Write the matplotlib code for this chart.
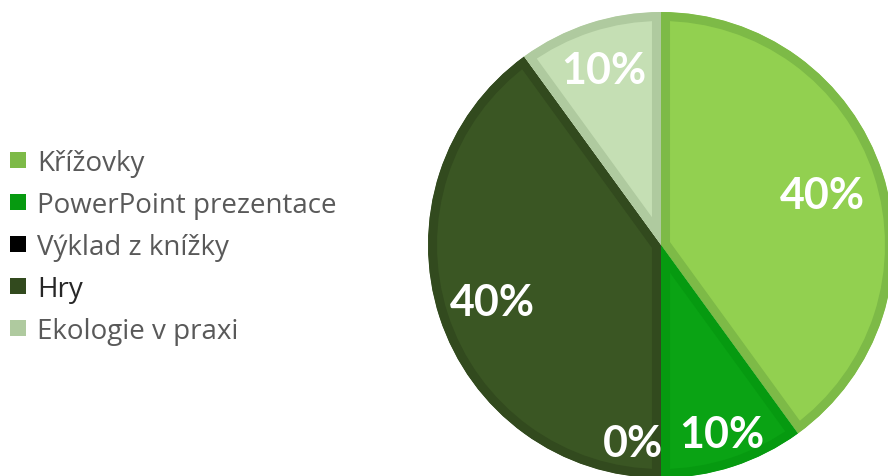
import matplotlib
matplotlib.use("Agg")
import matplotlib.pyplot as plt
import numpy as np
from matplotlib.patches import Rectangle

categories = ["Křížovky", "PowerPoint prezentace", "Výklad z knížky", "Hry", "Ekologie v praxi"]
shares = [40, 10, 0, 40, 10]

fill_colors = ["#92D050", "#0AA314", "#000000", "#3A5623", "#C5DFB4"]
edge_colors = ["#7DBA47", "#069A10", "#000000", "#324A1E", "#AFCA9F"]
legend_text_colors = ["#595959", "#595959", "#595959", "#262626", "#595959"]

# radial position of each percentage label (fraction of radius)
label_radius = [0.73, 0.84, 0.84, 0.76, 0.80]

W, H = 888, 476
fig = plt.figure(figsize=(W / 100, H / 100), dpi=100)

cx, cy, R = 661, 245, 233
ax = fig.add_axes([(cx - R) / W, (H - cy - R) / H, 2 * R / W, 2 * R / H])

wedges, _ = ax.pie(shares, startangle=90, counterclock=False, radius=1,
                   colors=fill_colors)
ax.set_xlim(-1, 1)
ax.set_ylim(-1, 1)
ax.set_aspect("equal")
ax.axis("off")

# inner border: stroke each wedge and clip it to its own outline
for w, ec in zip(wedges, edge_colors):
    w.set_edgecolor(ec)
    w.set_linewidth(13)
    w.set_clip_on(True)
    w.set_clip_path(w)

total = sum(shares)
for w, val, r in zip(wedges, shares, label_radius):
    mid = np.deg2rad((w.theta1 + w.theta2) / 2)
    x, y = r * np.cos(mid), r * np.sin(mid)
    ha = "right" if val == 0 else "center"
    if val == 0:
        x += 0.01
    ax.text(x, y, f"{val / total * 100:.0f}%", ha=ha, va="center_baseline",
            color="white", fontsize=31, fontweight="bold", family="Lato")

# legend: colour key + label per row
row_top, row_step = 160, 42
for i, (name, ec, tc) in enumerate(zip(categories, edge_colors, legend_text_colors)):
    yc = row_top + i * row_step
    fig.patches.append(Rectangle((10 / W, (H - yc - 8) / H), 16 / W, 16 / H,
                                 transform=fig.transFigure, facecolor=ec,
                                 edgecolor="none"))
    fig.text(37 / W, (H - yc) / H, name, ha="left", va="center_baseline",
             color=tc, fontsize=20, family="Open Sans")

fig.savefig("out.png", dpi=100)
